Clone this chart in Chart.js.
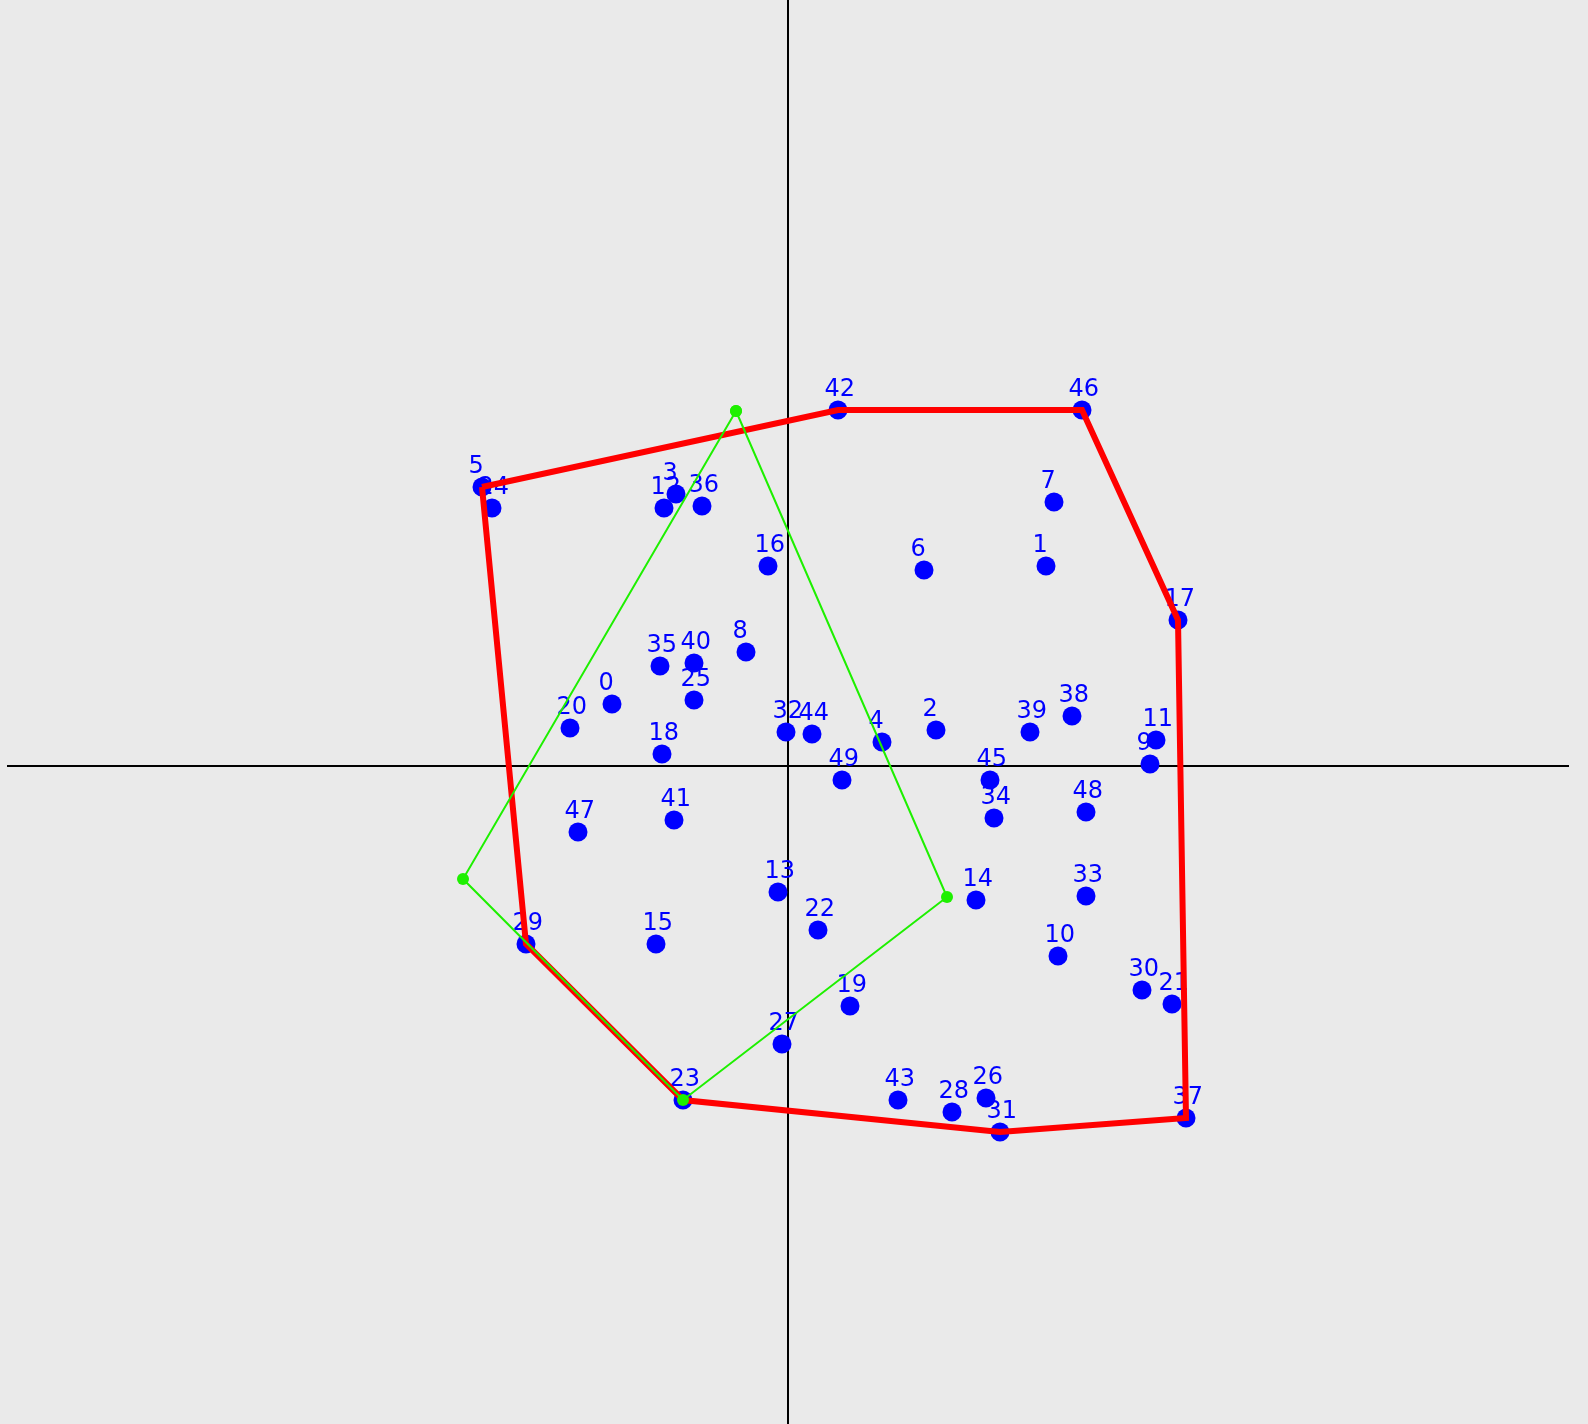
<!DOCTYPE html>
<html>
<head>
<meta charset="utf-8">
<script src="https://cdn.jsdelivr.net/npm/chart.js@4.4.1/dist/chart.umd.min.js"></script>
<style>
  html, body { margin: 0; padding: 0; background: #eaeaea; overflow: hidden; }
  #wrap { width: 1588px; height: 1424px; }
  canvas { display: block; }
</style>
</head>
<body>
<div id="wrap"><canvas id="c" width="1588" height="1424"></canvas></div>
<script>
// ---- data (x to the right, y up, origin at the axes crossing) ----
const pointLabels = ["0","1","2","3","4","5","6","7","8","9","10","11","12","13","14","15","16","17","18","19","20","21","22","23","24","25","26","27","28","29","30","31","32","33","34","35","36","37","38","39","40","41","42","43","44","45","46","47","48","49"];
const pointX = [-176, 258, 148, -112, 94, -306, 136, 266, -42, 362, 270, 368, -124, -10, 188, -132, -20, 390, -126, 62, -218, 384, 30, -105, -296, -94, 198, -6, 164, -262, 354, 212, -2, 298, 206, -128, -86, 398, 284, 242, -94, -114, 50, 110, 24, 202, 294, -210, 298, 54];
const pointY = [62, 200, 36, 272, 24, 279, 196, 264, 114, 2, -190, 26, 258, -126, -134, -178, 200, 146, 12, -240, 38, -238, -164, -334, 258, 66, -332, -278, -346, -178, -224, -366, 34, -130, -52, 100, 260, -352, 50, 34, 103, -54, 356, -334, 32, -14, 356, -66, -46, -14];
// convex hull (indices into the points, closed)
const hullIndices = [5, 42, 46, 17, 37, 31, 23, 29, 5];
// green polygon vertices (closed)
const greenX = [-52, 159, -105, -325, -52];
const greenY = [355, -131, -334, -113, 355];
// axis extents
const xRange = [-788, 800];
const yRange = [-658, 766];
const hAxisSpan = [-781, 781];

const bluePts = pointX.map((x, i) => ({x: x, y: pointY[i]}));
const hullPts = hullIndices.map(i => ({x: pointX[i], y: pointY[i]}));
const greenPts = greenX.map((x, i) => ({x: x, y: greenY[i]}));

const bgPlugin = {
  id: 'bg',
  beforeDraw(chart) {
    const ctx = chart.ctx;
    ctx.save();
    ctx.fillStyle = '#eaeaea';
    ctx.fillRect(0, 0, chart.width, chart.height);
    ctx.restore();
  },
  beforeDatasetsDraw(chart) {
    const ctx = chart.ctx;
    const xs = chart.scales.x, ys = chart.scales.y;
    const x0 = xs.getPixelForValue(0), y0 = ys.getPixelForValue(0);
    ctx.save();
    ctx.strokeStyle = '#000000';
    ctx.lineWidth = 2;
    ctx.beginPath();
    ctx.moveTo(xs.getPixelForValue(hAxisSpan[0]), y0);
    ctx.lineTo(xs.getPixelForValue(hAxisSpan[1]), y0);
    ctx.moveTo(x0, 0);
    ctx.lineTo(x0, chart.height);
    ctx.stroke();
    ctx.restore();
  },
  afterDatasetDraw(chart, args) {
    if (args.index !== 2) return;
    const ctx = chart.ctx;
    const meta = chart.getDatasetMeta(2);
    ctx.save();
    ctx.fillStyle = '#0000ff';
    ctx.font = '24px "DejaVu Sans"';
    ctx.textAlign = 'left';
    ctx.textBaseline = 'alphabetic';
    meta.data.forEach((el, i) => {
      ctx.fillText(pointLabels[i], el.x - 13.5, el.y - 14);
    });
    ctx.restore();
  }
};

new Chart(document.getElementById('c'), {
  type: 'scatter',
  data: {
    datasets: [
      {
        label: 'green',
        data: greenPts,
        showLine: true,
        borderColor: '#1ef000',
        borderWidth: 2,
        pointRadius: 6,
        pointBackgroundColor: '#1ef000',
        pointBorderWidth: 0,
        order: 0,
        clip: false
      },
      {
        label: 'hull',
        data: hullPts,
        showLine: true,
        borderColor: '#ff0000',
        borderWidth: 6,
        borderJoinStyle: 'miter',
        pointRadius: 0,
        order: 1,
        clip: false
      },
      {
        label: 'points',
        data: bluePts,
        showLine: false,
        pointRadius: 9.5,
        pointBackgroundColor: '#0000ff',
        pointBorderWidth: 0,
        order: 2,
        clip: false
      }
    ]
  },
  options: {
    responsive: false,
    animation: false,
    events: [],
    devicePixelRatio: 1,
    layout: { padding: 0, autoPadding: false },
    plugins: { legend: { display: false }, tooltip: { enabled: false } },
    scales: {
      x: { type: 'linear', min: xRange[0], max: xRange[1], display: false },
      y: { type: 'linear', min: yRange[0], max: yRange[1], display: false }
    }
  },
  plugins: [bgPlugin]
});
</script>
</body>
</html>
